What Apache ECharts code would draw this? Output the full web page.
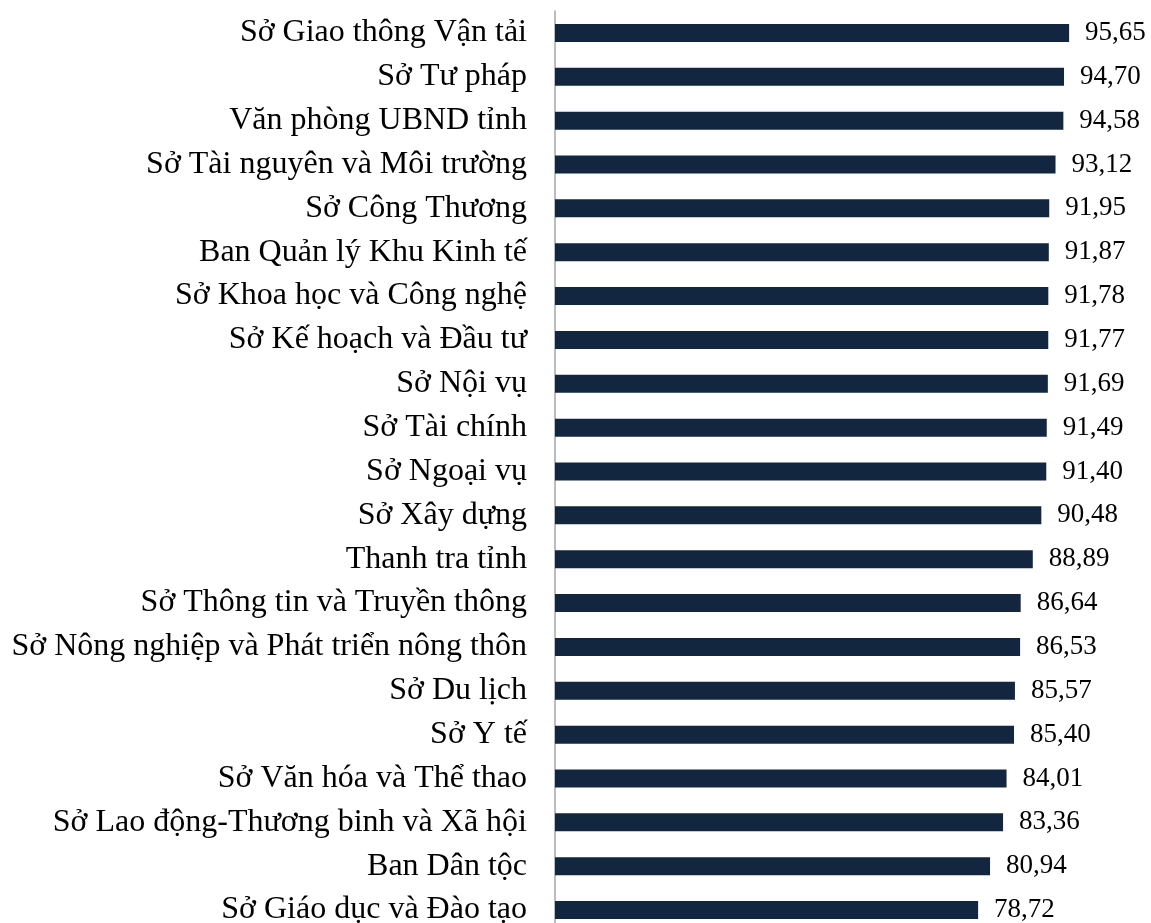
<!DOCTYPE html>
<html>
<head>
<meta charset="utf-8">
<script src="https://cdn.jsdelivr.net/npm/echarts@6/dist/echarts.min.js"></script>
<style>
  html, body { margin: 0; padding: 0; background: #ffffff; overflow: hidden; }
  /* the last row runs slightly past the bottom of the window */
  #chart { width: 1151px; height: 932px; }
</style>
</head>
<body>
<div id="chart"></div>
<script>
// Đơn vị (top to bottom) and their scores
const categories = [
  'Sở Giao thông Vận tải',
  'Sở Tư pháp',
  'Văn phòng UBND tỉnh',
  'Sở Tài nguyên và Môi trường',
  'Sở Công Thương',
  'Ban Quản lý Khu Kinh tế',
  'Sở Khoa học và Công nghệ',
  'Sở Kế hoạch và Đầu tư',
  'Sở Nội vụ',
  'Sở Tài chính',
  'Sở Ngoại vụ',
  'Sở Xây dựng',
  'Thanh tra tỉnh',
  'Sở Thông tin và Truyền thông',
  'Sở Nông nghiệp và Phát triển nông thôn',
  'Sở Du lịch',
  'Sở Y tế',
  'Sở Văn hóa và Thể thao',
  'Sở Lao động-Thương binh và Xã hội',
  'Ban Dân tộc',
  'Sở Giáo dục và Đào tạo'
];

const scores = [
  95.65, 94.70, 94.58, 93.12, 91.95, 91.87, 91.78, 91.77, 91.69, 91.49, 91.40,
  90.48, 88.89, 86.64, 86.53, 85.57, 85.40, 84.01, 83.36, 80.94, 78.72
];

const chart = echarts.init(document.getElementById('chart'), null, { renderer: 'canvas' });

const serif = '"Liberation Serif", "Times New Roman", "DejaVu Serif", serif';

chart.setOption({
  animation: false,
  backgroundColor: '#ffffff',
  grid: { left: 555, right: 58.5, top: 11, bottom: 0, containLabel: false },
  xAxis: {
    type: 'value',
    min: 0,
    max: 100,
    show: false
  },
  yAxis: {
    type: 'category',
    data: categories,
    inverse: true,
    axisLine: { show: true, lineStyle: { color: '#a6a6a6', width: 1.5 } },
    axisTick: { show: false },
    splitLine: { show: false },
    axisLabel: {
      margin: 28,
      color: '#000000',
      fontFamily: serif,
      fontSize: 32
    }
  },
  series: [{
    type: 'bar',
    data: scores,
    barWidth: 18,
    itemStyle: { color: '#13263f' },
    label: {
      show: true,
      position: 'right',
      distance: 16,
      color: '#000000',
      fontFamily: serif,
      fontSize: 27,
      formatter: p => p.value.toFixed(2).replace('.', ',')
    }
  }]
});
</script>
</body>
</html>
